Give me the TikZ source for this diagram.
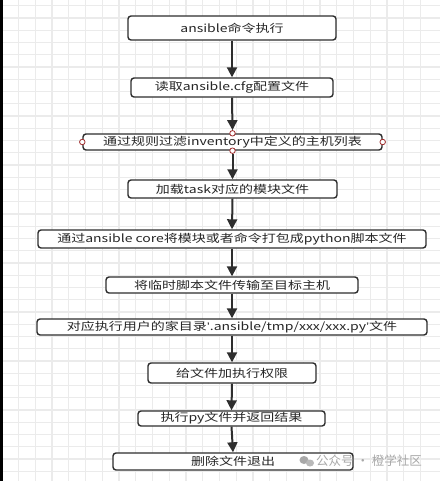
\documentclass[tikz,border=0pt]{standalone}
\usepackage{fontspec}
\setmainfont{Noto Sans CJK SC}
\newfontfamily\qf{Liberation Sans}
\usetikzlibrary{arrows.meta}
\definecolor{gridc}{HTML}{EBEBEB}
\definecolor{linec}{HTML}{2E2E2E}
\definecolor{txtc}{HTML}{262626}
\definecolor{portc}{HTML}{A03030}
\definecolor{wmc}{HTML}{A8A8A8}
\newcommand{\sq}[1]{\scalebox{1}[0.78]{#1}}
\newcommand{\qt}{{\qf\char"2019}}
\tikzset{
  box/.style={draw=linec, line width=1.4pt, rounded corners=3pt, fill=white, inner sep=0pt,
    font=\fontsize{14}{15}\selectfont, text=txtc},
  arr/.style={draw=linec, line width=2pt, -{Triangle[width=10pt,length=10pt]}},
  port/.style={circle, draw=portc, fill=white, line width=0.8pt, minimum size=5.5pt, inner sep=0pt},
}
\begin{document}
\begin{tikzpicture}[x=1pt,y=-1pt]
\useasboundingbox (0,0) rectangle (440,481);
\fill[white] (0,0) rectangle (440,481);
% grid
\foreach \i in {0,...,25} {\draw[gridc, line width=1.2pt] ({1.75+16.75*\i},0) -- ({1.75+16.75*\i},481);}
\foreach \j in {0,...,39} {\draw[gridc, line width=1.2pt] (0,{5.7+12.25*\j}) -- (440,{5.7+12.25*\j});}
\fill[black] (0,0) rectangle (3,481);
% boxes
\node[box, minimum width=208pt, minimum height=24pt] (n1) at (232,28) {\sq{ansible命令执行}};
\node[box, minimum width=202pt, minimum height=19pt] (n2) at (232,87.5) {\sq{读取ansible.cfg配置文件}};
\node[box, minimum width=299pt, minimum height=16pt] (n3) at (232.5,142) {\sq{通过规则过滤inventory中定义的主机列表}};
\node[box, minimum width=209pt, minimum height=18pt] (n4) at (232.5,189) {\sq{加载task对应的模块文件}};
\node[box, minimum width=388pt, minimum height=18pt] (n5) at (232,239) {\sq{通过ansible core将模块或者命令打包成python脚本文件}};
\node[box, minimum width=252pt, minimum height=16pt] (n6) at (232,285) {\sq{将临时脚本文件传输至目标主机}};
\node[box, minimum width=390pt, minimum height=16pt] (n7) at (232,327) {\sq{对应执行用户的家目录\qt.ansible/tmp/xxx/xxx.py\qt 文件}};
\node[box, minimum width=168pt, minimum height=20pt] (n8) at (232,373) {\sq{给文件加执行权限}};
\node[box, minimum width=187pt, minimum height=15pt] (n9) at (231.5,418.5) {\sq{执行py文件并返回结果}};
\node[box, minimum width=240pt, minimum height=17pt] (n10) at (233,461.5) {\sq{删除文件退出}};
% ports on n3
\node[port] (p3t) at (n3.north) {};
\node[port] (p3b) at (n3.south) {};
\node[port] (p3l) at (n3.west) {};
\node[port] (p3r) at (n3.east) {};
% arrows
\draw[arr] (n1.south) -- (n2.north);
\draw[arr] (n2.south) -- (p3t.north);
\draw[arr] (p3b.south) -- (n4.north);
\draw[arr] (n4.south) -- (n5.north);
\draw[arr] (n5.south) -- (n6.north);
\draw[arr] (n6.south) -- (n7.north);
\draw[arr] (n7.south) -- (n8.north);
\draw[arr] (n8.south) -- (n9.north);
\draw[arr] (n9.south) -- (n10.north);
% watermark
\fill[wmc] (304,460) ellipse (4.5pt and 4pt);
\fill[wmc!80] (310,463) ellipse (4pt and 3.5pt);
\node[text=wmc, font=\fontsize{12.5}{13}\selectfont, anchor=west, inner sep=0pt] (wm) at (316,461) {公众号 · 橙学社区};
\end{tikzpicture}
\end{document}
